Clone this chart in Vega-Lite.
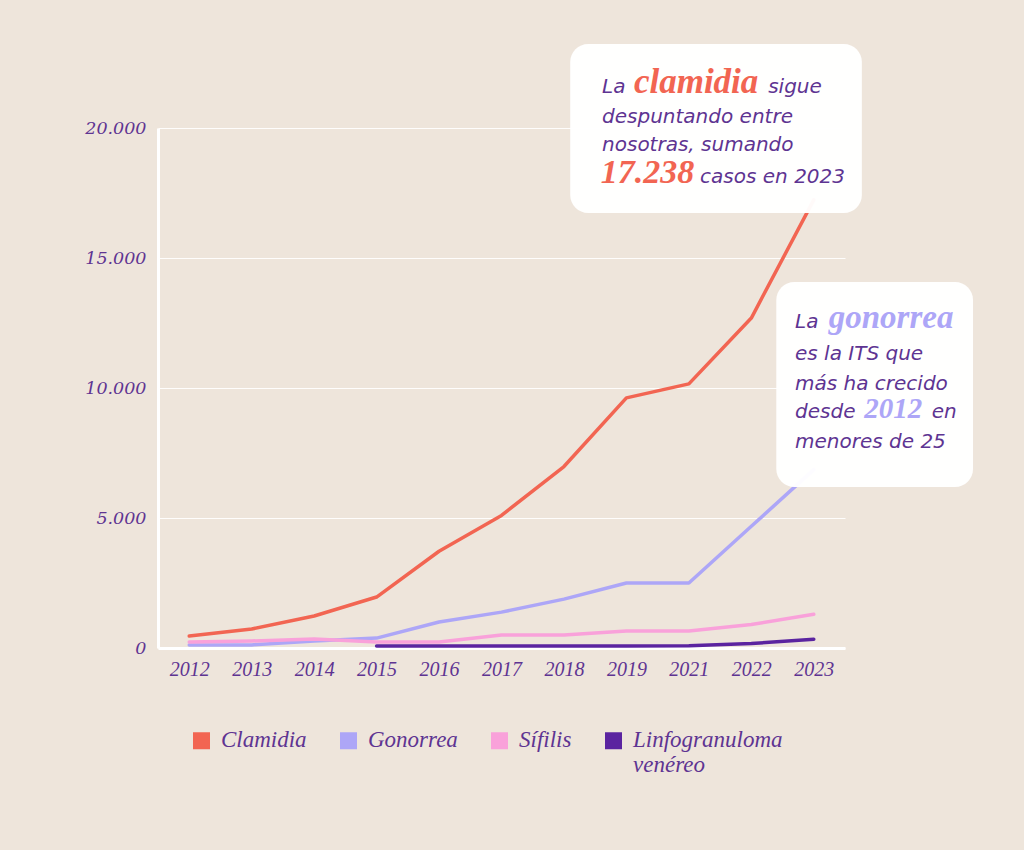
{
  "$schema": "https://vega.github.io/schema/vega-lite/v6.json",
  "width": 687,
  "height": 520,
  "autosize": "none",
  "padding": {"left": 158, "top": 128, "right": 179, "bottom": 202},
  "background": "#EEE5DB",
  "config": {"view": {"stroke": null}, "font": "Liberation Serif"},
  "datasets": {
    "cases": [
      {"year": "2012", "ets": "Clamidia", "casos": 460},
      {"year": "2013", "ets": "Clamidia", "casos": 730},
      {"year": "2014", "ets": "Clamidia", "casos": 1230},
      {"year": "2015", "ets": "Clamidia", "casos": 1960},
      {"year": "2016", "ets": "Clamidia", "casos": 3720},
      {"year": "2017", "ets": "Clamidia", "casos": 5100},
      {"year": "2018", "ets": "Clamidia", "casos": 6980},
      {"year": "2019", "ets": "Clamidia", "casos": 9620},
      {"year": "2021", "ets": "Clamidia", "casos": 10160},
      {"year": "2022", "ets": "Clamidia", "casos": 12690},
      {"year": "2023", "ets": "Clamidia", "casos": 17238},
      {"year": "2012", "ets": "Gonorrea", "casos": 120},
      {"year": "2013", "ets": "Gonorrea", "casos": 120},
      {"year": "2014", "ets": "Gonorrea", "casos": 270},
      {"year": "2015", "ets": "Gonorrea", "casos": 380},
      {"year": "2016", "ets": "Gonorrea", "casos": 1000},
      {"year": "2017", "ets": "Gonorrea", "casos": 1380},
      {"year": "2018", "ets": "Gonorrea", "casos": 1880},
      {"year": "2019", "ets": "Gonorrea", "casos": 2500},
      {"year": "2021", "ets": "Gonorrea", "casos": 2500},
      {"year": "2022", "ets": "Gonorrea", "casos": 4680},
      {"year": "2023", "ets": "Gonorrea", "casos": 6860},
      {"year": "2012", "ets": "Sífilis", "casos": 230},
      {"year": "2013", "ets": "Sífilis", "casos": 270},
      {"year": "2014", "ets": "Sífilis", "casos": 350},
      {"year": "2015", "ets": "Sífilis", "casos": 230},
      {"year": "2016", "ets": "Sífilis", "casos": 230},
      {"year": "2017", "ets": "Sífilis", "casos": 500},
      {"year": "2018", "ets": "Sífilis", "casos": 500},
      {"year": "2019", "ets": "Sífilis", "casos": 650},
      {"year": "2021", "ets": "Sífilis", "casos": 650},
      {"year": "2022", "ets": "Sífilis", "casos": 900},
      {"year": "2023", "ets": "Sífilis", "casos": 1300},
      {"year": "2015", "ets": "Linfogranuloma venéreo", "casos": 80},
      {"year": "2016", "ets": "Linfogranuloma venéreo", "casos": 80},
      {"year": "2017", "ets": "Linfogranuloma venéreo", "casos": 80},
      {"year": "2018", "ets": "Linfogranuloma venéreo", "casos": 80},
      {"year": "2019", "ets": "Linfogranuloma venéreo", "casos": 80},
      {"year": "2021", "ets": "Linfogranuloma venéreo", "casos": 90},
      {"year": "2022", "ets": "Linfogranuloma venéreo", "casos": 170},
      {"year": "2023", "ets": "Linfogranuloma venéreo", "casos": 340}
    ],
    "boxes": [
      {"box": "clamidia", "x1": 6.10, "x2": 10.77, "y1": 23231, "y2": 16731},
      {"box": "gonorrea", "x1": 9.40, "x2": 12.55, "y1": 14077, "y2": 6192}
    ],
    "notes": [
      {"t": "La", "xi": 6.61, "yv": 21345, "s": "sans"},
      {"t": "clamidia", "xi": 7.12, "yv": 21345, "s": "coralb"},
      {"t": "sigue", "xi": 9.27, "yv": 21345, "s": "sans"},
      {"t": "despuntando entre", "xi": 6.61, "yv": 20192, "s": "sans"},
      {"t": "nosotras, sumando", "xi": 6.61, "yv": 19115, "s": "sans"},
      {"t": "17.238", "xi": 6.59, "yv": 17884, "s": "coral"},
      {"t": "casos en 2023", "xi": 8.18, "yv": 17884, "s": "sans"},
      {"t": "La", "xi": 9.70, "yv": 12307, "s": "sans"},
      {"t": "gonorrea", "xi": 10.24, "yv": 12307, "s": "lavb"},
      {"t": "es la ITS que", "xi": 9.70, "yv": 11076, "s": "sans"},
      {"t": "más ha crecido", "xi": 9.70, "yv": 9923, "s": "sans"},
      {"t": "desde", "xi": 9.70, "yv": 8846, "s": "sans"},
      {"t": "2012", "xi": 10.81, "yv": 8846, "s": "lav"},
      {"t": "en", "xi": 11.89, "yv": 8846, "s": "sans"},
      {"t": "menores de 25", "xi": 9.70, "yv": 7692, "s": "sans"}
    ]
  },
  "resolve": {"scale": {"x": "independent"}, "axis": {"x": "independent"}},
  "layer": [
    {
      "data": {"name": "cases"},
      "mark": {"type": "line", "strokeWidth": 3.5, "strokeCap": "round", "strokeJoin": "round"},
      "encoding": {
        "x": {
          "field": "year", "type": "ordinal",
          "scale": {"type": "point", "padding": 0.5},
          "axis": {
            "title": null, "labelAngle": 0, "ticks": false, "grid": false,
            "domainColor": "#FFFFFF", "domainWidth": 3,
            "labelFont": "Liberation Serif", "labelFontStyle": "italic", "labelFontSize": 20,
            "labelColor": "#5E3492", "labelPadding": 11
          }
        },
        "y": {
          "field": "casos", "type": "quantitative",
          "scale": {"domain": [0, 20000], "nice": false},
          "axis": {
            "title": null, "values": [0, 5000, 10000, 15000, 20000],
            "ticks": false, "grid": true, "gridColor": "#FFFFFF", "gridWidth": 1, "gridOpacity": 0.9,
            "domainColor": "#FFFFFF", "domainWidth": 3,
            "labelFont": "DejaVu Serif", "labelFontStyle": "italic", "labelFontSize": 17.5,
            "labelColor": "#5E3492", "labelPadding": 12,
            "labelExpr": "replace(format(datum.value, ','), ',', '.')"
          }
        },
        "color": {
          "field": "ets", "type": "nominal",
          "scale": {
            "domain": ["Clamidia", "Gonorrea", "Sífilis", "Linfogranuloma venéreo"],
            "range": ["#F26552", "#ADA6F7", "#F9A1DA", "#5B24A0"]
          },
          "legend": {
            "title": null, "orient": "none", "legendX": 32, "legendY": 601,
            "direction": "horizontal", "symbolType": "square", "symbolSize": 289,
            "symbolStrokeWidth": 0, "symbolOpacity": 1,
            "labelFont": "Liberation Serif", "labelFontStyle": "italic", "labelFontSize": 23,
            "labelColor": "#5E3492", "labelOffset": 8, "columnPadding": 30, "labelLimit": 300,
            "labelBaseline": "top",
            "labelExpr": "datum.label == 'Linfogranuloma venéreo' ? ['Linfogranuloma', 'venéreo'] : [datum.label, ' ']",
            "encode": {
              "symbols": {"update": {"fill": {"scale": "color", "field": "value"}, "fillOpacity": {"value": 1}}},
              "labels": {"update": {"dy": {"value": -12}}}
            }
          }
        }
      }
    },
    {
      "layer": [
        {
          "data": {"name": "boxes"},
          "mark": {"type": "rect", "fill": "#FFFFFF", "cornerRadius": 18, "opacity": 0.97},
          "encoding": {
            "x": {"field": "x1", "type": "quantitative", "scale": {"domain": [-0.5, 10.5], "nice": false, "zero": false}, "axis": null},
            "x2": {"field": "x2"},
            "y": {"field": "y1", "type": "quantitative"},
            "y2": {"field": "y2"}
          }
        },
        {
          "data": {"name": "notes"},
          "transform": [{"filter": "datum.s == 'sans'"}],
          "mark": {"type": "text", "align": "left", "baseline": "alphabetic", "font": "DejaVu Sans", "fontStyle": "italic", "fontSize": 20, "color": "#5E3492"},
          "encoding": {
            "x": {"field": "xi", "type": "quantitative"},
            "y": {"field": "yv", "type": "quantitative"},
            "text": {"field": "t"}
          }
        },
        {
          "data": {"name": "notes"},
          "transform": [{"filter": "datum.s == 'coralb'"}],
          "mark": {"type": "text", "align": "left", "baseline": "alphabetic", "font": "Liberation Serif", "fontStyle": "italic", "fontWeight": "bold", "fontSize": 35, "color": "#F26552"},
          "encoding": {
            "x": {"field": "xi", "type": "quantitative"},
            "y": {"field": "yv", "type": "quantitative"},
            "text": {"field": "t"}
          }
        },
        {
          "data": {"name": "notes"},
          "transform": [{"filter": "datum.s == 'coral'"}],
          "mark": {"type": "text", "align": "left", "baseline": "alphabetic", "font": "Liberation Serif", "fontStyle": "italic", "fontWeight": "bold", "fontSize": 34, "color": "#F26552"},
          "encoding": {
            "x": {"field": "xi", "type": "quantitative"},
            "y": {"field": "yv", "type": "quantitative"},
            "text": {"field": "t"}
          }
        },
        {
          "data": {"name": "notes"},
          "transform": [{"filter": "datum.s == 'lavb'"}],
          "mark": {"type": "text", "align": "left", "baseline": "alphabetic", "font": "Liberation Serif", "fontStyle": "italic", "fontWeight": "bold", "fontSize": 33, "color": "#ADA6F7"},
          "encoding": {
            "x": {"field": "xi", "type": "quantitative"},
            "y": {"field": "yv", "type": "quantitative"},
            "text": {"field": "t"}
          }
        },
        {
          "data": {"name": "notes"},
          "transform": [{"filter": "datum.s == 'lav'"}],
          "mark": {"type": "text", "align": "left", "baseline": "alphabetic", "font": "Liberation Serif", "fontStyle": "italic", "fontWeight": "bold", "fontSize": 29, "color": "#ADA6F7"},
          "encoding": {
            "x": {"field": "xi", "type": "quantitative"},
            "y": {"field": "yv", "type": "quantitative"},
            "text": {"field": "t"}
          }
        }
      ]
    }
  ]
}
